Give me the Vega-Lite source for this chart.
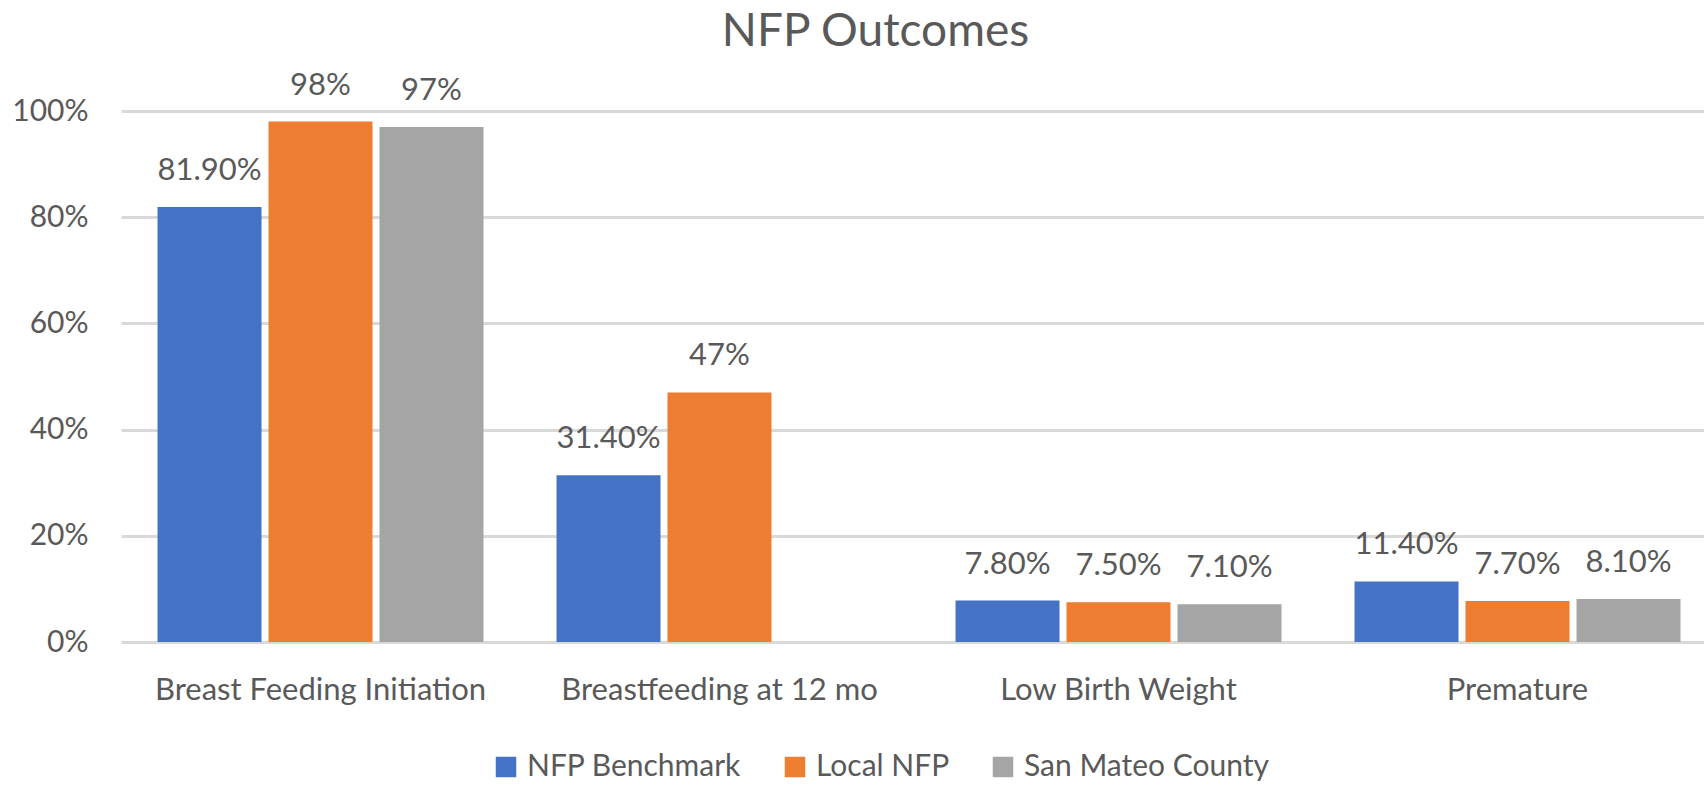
{
  "$schema": "https://vega.github.io/schema/vega-lite/v6.json",
  "width": 1583,
  "height": 531,
  "autosize": {"type": "none"},
  "padding": {"left": 121, "top": 111, "right": 0, "bottom": 143},
  "background": "white",
  "title": {"text": "NFP Outcomes", "fontSize": 46, "font": "Lato", "color": "#595959", "fontWeight": "normal", "anchor": "middle", "dx": -37, "offset": 14},
  "config": {"view": {"stroke": null}, "font": "Lato"},
  "data": {"values": [
    {"category": "Breast Feeding Initiation", "series": "NFP Benchmark", "value": 0.819, "label": "81.90%"},
    {"category": "Breast Feeding Initiation", "series": "Local NFP", "value": 0.98, "label": "98%"},
    {"category": "Breast Feeding Initiation", "series": "San Mateo County", "value": 0.97, "label": "97%"},
    {"category": "Breastfeeding at 12 mo", "series": "NFP Benchmark", "value": 0.314, "label": "31.40%"},
    {"category": "Breastfeeding at 12 mo", "series": "Local NFP", "value": 0.47, "label": "47%"},
    {"category": "Low Birth Weight", "series": "NFP Benchmark", "value": 0.078, "label": "7.80%"},
    {"category": "Low Birth Weight", "series": "Local NFP", "value": 0.075, "label": "7.50%"},
    {"category": "Low Birth Weight", "series": "San Mateo County", "value": 0.071, "label": "7.10%"},
    {"category": "Premature", "series": "NFP Benchmark", "value": 0.114, "label": "11.40%"},
    {"category": "Premature", "series": "Local NFP", "value": 0.077, "label": "7.70%"},
    {"category": "Premature", "series": "San Mateo County", "value": 0.081, "label": "8.10%"}
  ]},
  "encoding": {
    "x": {"field": "category", "type": "nominal",
      "sort": ["Breast Feeding Initiation", "Breastfeeding at 12 mo", "Low Birth Weight", "Premature"],
      "scale": {"range": [0, 1596], "paddingInner": 0, "paddingOuter": 0},
      "axis": {"title": null, "labelAngle": 0, "labelFontSize": 31, "labelColor": "#595959", "labelPadding": 33, "labelLimit": 0, "ticks": false, "domain": false, "labelFont": "Lato"}},
    "xOffset": {"field": "series", "type": "nominal",
      "sort": ["NFP Benchmark", "Local NFP", "San Mateo County"],
      "scale": {"paddingInner": 0.063, "paddingOuter": 0.329}},
    "y": {"field": "value", "type": "quantitative",
      "scale": {"domain": [0, 1], "nice": false},
      "axis": {"title": null, "values": [0, 0.2, 0.4, 0.6, 0.8, 1], "format": ".0%", "grid": true, "gridColor": "#D9D9D9", "gridWidth": 3, "ticks": false, "domain": false, "labelFontSize": 30, "labelColor": "#595959", "labelPadding": 33, "labelFont": "Lato"}}
  },
  "layer": [
    {"mark": {"type": "bar"},
     "encoding": {
       "color": {"field": "series", "type": "nominal",
         "sort": ["NFP Benchmark", "Local NFP", "San Mateo County"],
         "scale": {"domain": ["NFP Benchmark", "Local NFP", "San Mateo County"], "range": ["#4472C4", "#ED7D31", "#A5A5A5"]},
         "legend": {"title": null, "orient": "none", "legendX": 370, "legendY": 641, "direction": "horizontal",
           "symbolType": "square", "symbolSize": 420, "symbolStrokeWidth": 0,
           "labelFontSize": 30, "labelColor": "#595959", "labelFont": "Lato", "labelLimit": 0, "columnPadding": 38, "labelOffset": 6}}
     }},
    {"mark": {"type": "text", "baseline": "alphabetic", "dy": -27, "fontSize": 31, "color": "#595959", "font": "Lato"},
     "encoding": {"text": {"field": "label"}}}
  ]
}
